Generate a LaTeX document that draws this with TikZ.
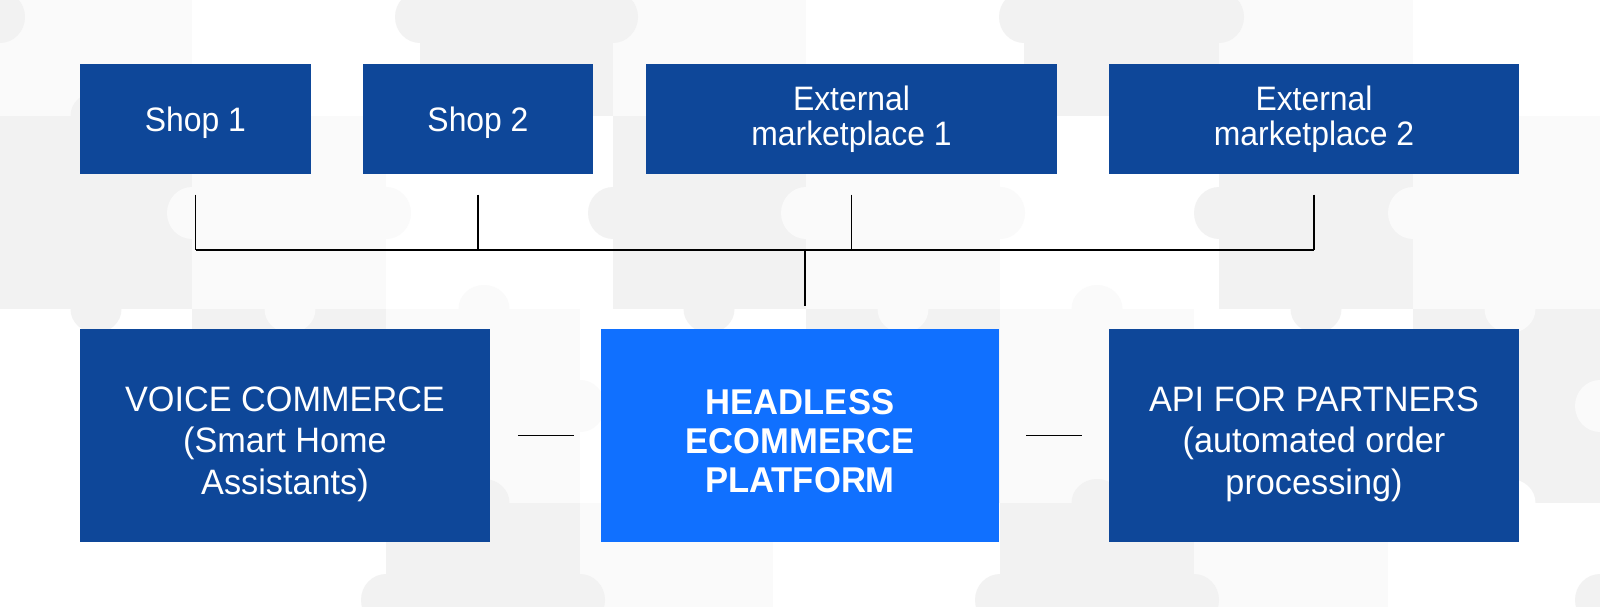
\documentclass[tikz,border=0pt]{standalone}
\usepackage{fontspec}
\setmainfont{Liberation Sans}
\newfontfamily\topfont[FakeStretch=0.94]{Liberation Sans}
\newfontfamily\lowfont[FakeStretch=0.97]{Liberation Sans}
\newfontfamily\corefont[FakeStretch=0.965]{Liberation Sans}
\usepackage{tikz}
\usetikzlibrary{positioning}

\definecolor{puzzlegray}{HTML}{F2F2F2}
\definecolor{puzzlelight}{HTML}{FAFAFA}
\definecolor{shopblue}{HTML}{0E4799}
\definecolor{coreblue}{HTML}{1070FF}

\newcommand\lowstrut[1]{\rule{0pt}{#1}}

\begin{document}
\begin{tikzpicture}[
    x=0.02cm, y=-0.02cm,
    box/.style={rectangle, fill=shopblue, text=white, inner sep=0pt, outer sep=0pt, align=center},
    top box/.style={box, minimum height=2.19cm, font=\topfont\fontsize{19.3}{19.8}\selectfont},
    low box/.style={box, minimum height=4.26cm, minimum width=8.2cm, font=\lowfont\fontsize{20.1}{23.4}\selectfont},
    link/.style={draw=black, line width=0.6pt}
]

\useasboundingbox (0,0) rectangle (1600,607);
\fill[white] (0,0) rectangle (1600,607);

\begin{scope}
\clip (0,0) rectangle (1600,607);
\foreach \xa/\xb/\tone in {0/192/puzzlelight, 420/613/puzzlegray, 613/806/puzzlelight, 1024/1219/puzzlegray, 1219/1413/puzzlelight}
    \fill[\tone] (\xa,-77) rectangle (\xb,116);
\foreach \xa/\xb/\tone in {0/192/puzzlegray, 192/386/puzzlelight, 613/806/puzzlegray, 806/1000/puzzlelight, 1219/1413/puzzlegray, 1413/1600/puzzlelight}
    \fill[\tone] (\xa,116) rectangle (\xb,309);
\foreach \xa/\xb/\tone in {192/386/puzzlegray, 386/580/puzzlelight, 806/1000/puzzlegray, 1000/1194/puzzlelight, 1413/1600/puzzlegray}
    \fill[\tone] (\xa,309) rectangle (\xb,503);
\foreach \xa/\xb/\tone in {386/580/puzzlegray, 580/773/puzzlelight, 1000/1194/puzzlegray, 1194/1388/puzzlelight}
    \fill[\tone] (\xa,503) rectangle (\xb,700);
% side knobs
\foreach \kx/\ky/\tone in {0/17/puzzlegray, 420/17/puzzlegray, 613/17/puzzlegray, 1024/17/puzzlegray, 1219/17/puzzlegray,
    192/213/puzzlelight, 386/213/puzzlelight, 613/213/puzzlegray, 806/213/puzzlelight, 1000/213/puzzlelight, 1219/213/puzzlegray, 1413/213/puzzlelight,
    580/406/puzzlelight, 1600/406/puzzlelight,
    386/600/puzzlegray, 580/600/puzzlegray, 1000/600/puzzlegray, 1194/600/puzzlegray, 1600/600/puzzlegray}
    \fill[\tone] (\kx,\ky) ellipse [x radius=0.5cm, y radius=0.52cm];
% top and bottom knobs
\foreach \kx/\ky/\tone in {96/116/puzzlegray,
    96/309/puzzlegray, 290/309/puzzlelight, 484/309/puzzlelight, 709/309/puzzlegray, 903/309/puzzlelight, 1097/309/puzzlelight, 1316/309/puzzlegray, 1510/309/puzzlelight,
    484/503/puzzlegray, 1097/503/puzzlegray, 1510/503/white}
    \fill[\tone] (\kx,\ky) ellipse [x radius=0.51cm, y radius=0.48cm];
\end{scope}

\node[top box, minimum width=4.62cm, text depth=0pt] (shopA) at (195.5,119) {Shop 1};
\node[top box, minimum width=4.6cm, text depth=0pt] (shopB) at (478,119) {Shop 2};
\node[top box, minimum width=8.22cm] (marketA) at (851.5,119) {External\\marketplace 1};
\node[top box, minimum width=8.2cm] (marketB) at (1314,119) {External\\marketplace 2};

\node[low box] (voice) at (285,435.5) {\lowstrut{24pt}VOICE COMMERCE\\(Smart Home\\Assistants)};
\node[low box, fill=coreblue, minimum width=7.97cm, font=\corefont\bfseries\fontsize{20.4}{22.2}\selectfont] (headless) at (800,435.5) {\lowstrut{20.4pt}HEADLESS\\ECOMMERCE\\PLATFORM};
\node[low box] (partners) at (1314,435.5) {\lowstrut{24pt}API FOR PARTNERS\\(automated order\\processing)};

\coordinate (hub) at (805,250);
\coordinate (hubend) at (805,306);

\foreach \n in {shopA,shopB,marketA,marketB}
    \draw[link] ([yshift=-0.42cm]\n.south) -- (\n.south |- hub);
\draw[link] (shopA.south |- hub) -- (marketB.south |- hub);
\draw[link] (hub) -- (hubend);
\draw[link] ([xshift=0.56cm]voice.east) -- ([xshift=-0.54cm]headless.west);
\draw[link] ([xshift=0.54cm]headless.east) -- ([xshift=-0.54cm]partners.west);

\end{tikzpicture}
\end{document}
